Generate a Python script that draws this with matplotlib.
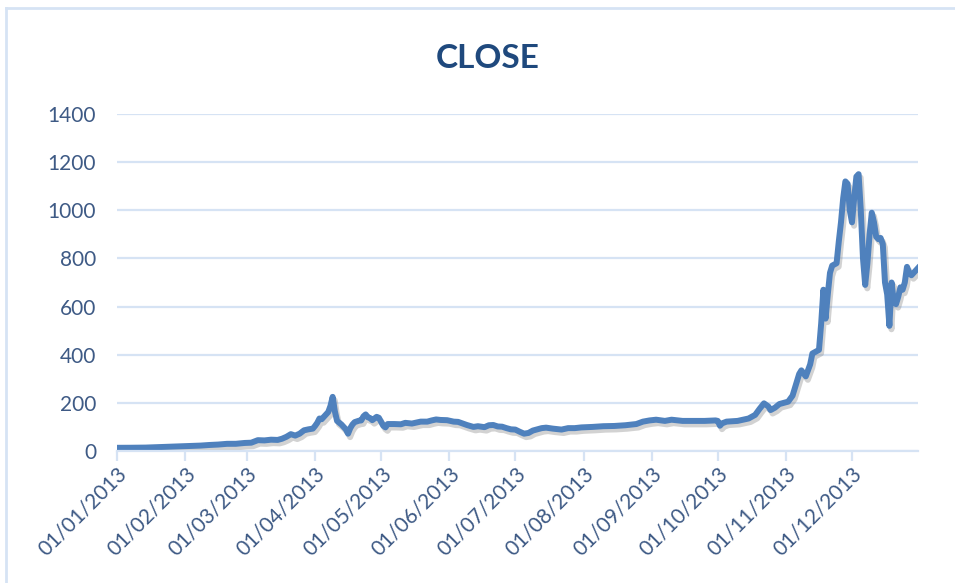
import matplotlib
matplotlib.use("Agg")
import matplotlib.pyplot as plt
import matplotlib.dates as mdates
import matplotlib.patheffects as pe
from matplotlib.lines import Line2D
import pandas as pd

# closing prices (date, value)
dates = [
    "2013-01-01", "2013-01-07", "2013-01-14", "2013-01-18", "2013-01-24", "2013-01-28", "2013-01-31",
    "2013-02-03", "2013-02-08", "2013-02-12", "2013-02-16", "2013-02-20", "2013-02-24", "2013-02-28",
    "2013-03-03", "2013-03-06", "2013-03-09", "2013-03-12", "2013-03-15", "2013-03-17", "2013-03-19",
    "2013-03-21", "2013-03-23", "2013-03-25", "2013-03-27", "2013-03-29", "2013-03-31",
    "2013-04-01", "2013-04-02", "2013-04-03", "2013-04-04", "2013-04-05", "2013-04-07", "2013-04-08",
    "2013-04-09", "2013-04-10", "2013-04-11", "2013-04-13", "2013-04-15", "2013-04-16", "2013-04-17",
    "2013-04-18", "2013-04-19", "2013-04-21", "2013-04-22", "2013-04-23", "2013-04-24", "2013-04-25",
    "2013-04-26", "2013-04-27", "2013-04-28", "2013-04-29", "2013-04-30",
    "2013-05-02", "2013-05-03", "2013-05-04", "2013-05-07", "2013-05-10", "2013-05-12", "2013-05-15",
    "2013-05-17", "2013-05-19", "2013-05-22", "2013-05-24", "2013-05-26", "2013-05-28", "2013-05-31",
    "2013-06-03", "2013-06-05", "2013-06-09", "2013-06-12", "2013-06-14", "2013-06-17", "2013-06-19",
    "2013-06-21", "2013-06-23", "2013-06-25", "2013-06-27", "2013-06-29",
    "2013-07-01", "2013-07-03", "2013-07-05", "2013-07-07", "2013-07-09", "2013-07-11", "2013-07-13",
    "2013-07-15", "2013-07-18", "2013-07-22", "2013-07-25", "2013-07-28", "2013-07-31",
    "2013-08-05", "2013-08-10", "2013-08-15", "2013-08-20", "2013-08-25", "2013-08-28", "2013-08-31",
    "2013-09-03", "2013-09-07", "2013-09-10", "2013-09-15", "2013-09-20", "2013-09-25", "2013-09-30",
    "2013-10-01", "2013-10-02", "2013-10-03", "2013-10-05", "2013-10-10", "2013-10-15", "2013-10-18",
    "2013-10-20", "2013-10-22", "2013-10-24", "2013-10-25", "2013-10-27", "2013-10-29", "2013-10-31",
    "2013-11-02", "2013-11-04", "2013-11-05", "2013-11-07", "2013-11-08", "2013-11-10", "2013-11-12",
    "2013-11-13", "2013-11-14", "2013-11-16", "2013-11-17", "2013-11-18", "2013-11-19", "2013-11-20",
    "2013-11-21", "2013-11-22", "2013-11-24", "2013-11-25", "2013-11-26", "2013-11-27", "2013-11-28",
    "2013-11-29", "2013-11-30", "2013-12-01", "2013-12-02", "2013-12-03", "2013-12-04", "2013-12-05",
    "2013-12-06", "2013-12-07", "2013-12-08", "2013-12-09", "2013-12-10", "2013-12-11", "2013-12-12",
    "2013-12-13", "2013-12-14", "2013-12-15", "2013-12-16", "2013-12-17", "2013-12-18", "2013-12-19",
    "2013-12-20", "2013-12-21", "2013-12-22", "2013-12-23", "2013-12-24", "2013-12-25", "2013-12-26",
    "2013-12-27", "2013-12-28", "2013-12-29", "2013-12-30", "2013-12-31",
]
close = [
    13.3, 13.5, 14.2, 15.7, 17.5, 18.9, 20.4,
    20.6, 22.5, 25.0, 26.8, 29.8, 29.9, 33.4,
    34.5, 45, 44, 47, 46, 51, 59,
    70, 64, 72, 86, 90, 93,
    104, 117, 135, 132, 142, 162, 187,
    225, 165, 125, 110, 90, 72, 95,
    110, 120, 126, 127, 144, 152, 140,
    137, 128, 135, 142, 138,
    105, 98, 112, 112, 111, 117, 114,
    118, 122, 122, 127, 131, 129, 128,
    122, 121, 108, 100, 103, 99, 107,
    108, 102, 101, 95, 90,
    89, 80, 72, 75, 85, 90, 95,
    97, 93, 89, 95, 95, 98,
    100, 103, 104, 107, 112, 122, 127,
    130, 125, 130, 125, 125, 125, 127,
    125, 105, 115, 122, 125, 135, 150,
    175, 198, 185, 170, 180, 195, 200,
    205, 230, 260, 320, 335, 310, 360,
    405, 410, 420, 530, 670, 550, 650,
    740, 770, 780, 870, 950, 1050, 1120,
    1110, 1000, 950, 1050, 1140, 1150, 1000,
    800, 690, 780, 900, 990, 950, 890,
    880, 885, 860, 700, 650, 520, 700,
    620, 610, 640, 680, 670, 700, 765,
    740, 730, 740, 750, 760,
]

line_col = "#4F81BD"
grid_col = "#D6E3F4"
text_col = "#3E5A85"
title_col = "#1F497D"

x = pd.to_datetime(dates)

fig = plt.figure(figsize=(9.55, 5.83), dpi=100)
ax = fig.add_axes([117 / 955, 132 / 583, 801 / 955, 337 / 583])

ax.plot(x, close, color=line_col, linewidth=4.3, solid_joinstyle="round",
        path_effects=[pe.SimpleLineShadow(offset=(1.5, -2.5), shadow_color="gray", alpha=0.35),
                      pe.Normal()])

ax.set_ylim(0, 1400)
ax.set_yticks(range(0, 1401, 200))
ax.set_xlim(pd.Timestamp("2013-01-01"), pd.Timestamp("2013-12-31"))
ax.xaxis.set_major_locator(mdates.MonthLocator())
ax.xaxis.set_major_formatter(mdates.DateFormatter("%d/%m/%Y"))

ax.grid(axis="y", color=grid_col, linewidth=1.6)
ax.set_axisbelow(True)
for s in ["left", "right", "top"]:
    ax.spines[s].set_visible(False)
ax.spines["bottom"].set_color(grid_col)
ax.spines["bottom"].set_linewidth(1.6)

ax.tick_params(axis="y", length=0, pad=15, labelsize=15, labelcolor=text_col)
ax.tick_params(axis="x", length=7, width=1.6, color=grid_col, direction="out",
               pad=2, labelsize=15, labelcolor=text_col)
for lab in ax.get_xticklabels():
    lab.set_rotation(45)
    lab.set_ha("right")
    lab.set_va("top")
    lab.set_rotation_mode("anchor")
for lab in ax.get_xticklabels() + ax.get_yticklabels():
    lab.set_fontfamily("Lato")

fig.text(0.511, 0.9, "CLOSE", ha="center", va="center", fontsize=24,
         fontweight="bold", color=title_col, fontfamily="Lato")

# chart-area border
fig.add_artist(Line2D([6 / 955, 1.0], [1 - 8 / 583, 1 - 8 / 583], color=grid_col, linewidth=2))
fig.add_artist(Line2D([6 / 955, 6 / 955], [0, 1 - 8 / 583], color=grid_col, linewidth=2))

fig.savefig("out.png", dpi=100)
